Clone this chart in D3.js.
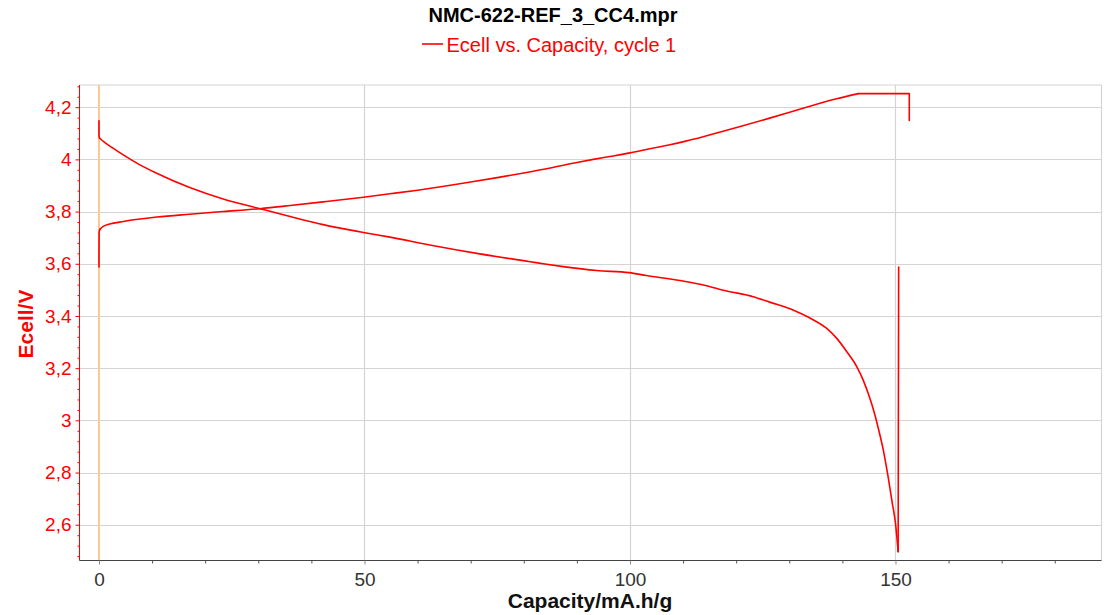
<!DOCTYPE html>
<html>
<head>
<meta charset="utf-8">
<script src="https://cdn.jsdelivr.net/npm/d3@7"></script>
<style>
  html, body { margin: 0; padding: 0; background: #fff; }
  svg { display: block; font-family: "Liberation Sans", Arial, sans-serif; }
</style>
</head>
<body>
<svg id="chart" width="1110" height="615"></svg>
<script>
// ---- data ----
const chartTitle = "NMC-622-REF_3_CC4.mpr";
const seriesName = "Ecell vs. Capacity, cycle 1";
const xLabel = "Capacity/mA.h/g";
const yLabel = "Ecell/V";

const xTicks = [0, 50, 100, 150];
const xTickLabels = ["0", "50", "100", "150"];
const yTicks = [2.6, 2.8, 3.0, 3.2, 3.4, 3.6, 3.8, 4.0, 4.2];
const yTickLabels = ["2,6", "2,8", "3", "3,2", "3,4", "3,6", "3,8", "4", "4,2"];

// charge (capacity mA.h/g, Ecell V)
const chargeCap = [0, 0, 0.02, 0.15, 0.8, 2, 4.6, 10.9, 17.1, 23.4, 30.3, 36, 42.2, 49.8, 54.8, 60, 65, 70, 75, 80, 85, 90, 93.1, 96.8, 100, 103.5, 107.5, 110.5, 113.8, 120.1, 126.3, 132.6, 138.9, 143.0, 152.6, 152.6];
const chargeE   = [3.588, 3.65, 3.72, 3.732, 3.743, 3.752, 3.762, 3.779, 3.790, 3.800, 3.811, 3.823, 3.837, 3.855, 3.868, 3.882, 3.897, 3.913, 3.930, 3.948, 3.967, 3.988, 4.0, 4.013, 4.025, 4.040, 4.056, 4.070, 4.087, 4.122, 4.158, 4.196, 4.232, 4.252, 4.252, 4.149];

// discharge
const dischargeCap = [0, 0, 0.1, 1, 2.5, 4.58, 7.7, 10.86, 17.1, 23.4, 30.3, 36, 42.2, 49.8, 54.8, 62.3, 71.7, 81.2, 84.3, 87.4, 93.7, 99.85, 103.1, 109.4, 113.8, 118.2, 123.2, 126.3, 130.7, 133.9, 137.0, 138.9, 140.8, 142.7, 143.9, 145.0, 146.0, 146.7, 147.7, 148.6, 149.4, 150.0, 150.5, 150.6];
const dischargeE   = [4.148, 4.09, 4.082, 4.066, 4.045, 4.017, 3.979, 3.947, 3.892, 3.848, 3.811, 3.781, 3.750, 3.720, 3.702, 3.672, 3.638, 3.608, 3.598, 3.589, 3.574, 3.566, 3.555, 3.536, 3.519, 3.496, 3.474, 3.453, 3.423, 3.392, 3.353, 3.315, 3.264, 3.206, 3.155, 3.095, 3.030, 2.975, 2.887, 2.785, 2.683, 2.606, 2.497, 3.587];

const xDomain = [-3.67, 188.8];
const yDomain = [2.463, 4.285];

// ---- layout ----
(function draw() {
const svg = d3.select("#chart");
const pLeft = 79.5, pRight = 1101.5, pTop = 85, pBottom = 560.5;
const red = "#ff0000";
const gridColor = "#d4d4d4";

const x = d3.scaleLinear().domain(xDomain).range([pLeft, pRight]);
const y = d3.scaleLinear().domain(yDomain).range([pBottom, pTop]);

// gridlines
const grid = svg.append("g");
grid.selectAll("line.h").data(yTicks).join("line")
  .attr("x1", pLeft).attr("x2", pRight)
  .attr("y1", d => Math.round(y(d)) + 0.5).attr("y2", d => Math.round(y(d)) + 0.5)
  .attr("stroke", gridColor).attr("stroke-width", 1.2);
grid.selectAll("line.v").data(xTicks.filter(d => d !== 0)).join("line")
  .attr("y1", pTop).attr("y2", pBottom)
  .attr("x1", d => Math.round(x(d)) + 0.5).attr("x2", d => Math.round(x(d)) + 0.5)
  .attr("stroke", gridColor).attr("stroke-width", 1.2);

// plot border (top & right)
svg.append("line").attr("x1", pLeft).attr("x2", pRight).attr("y1", pTop).attr("y2", pTop)
  .attr("stroke", gridColor).attr("stroke-width", 1.2);
svg.append("line").attr("x1", pRight).attr("x2", pRight).attr("y1", pTop).attr("y2", pBottom)
  .attr("stroke", gridColor).attr("stroke-width", 1.2);

// zero capacity marker line
svg.append("line")
  .attr("x1", x(0)).attr("x2", x(0)).attr("y1", pTop).attr("y2", pBottom)
  .attr("stroke", "#ffc890").attr("stroke-width", 2);

// curves: straight vertical / CV parts, smooth monotone parts in between
const lin = d3.line().x(d => x(d[0])).y(d => y(d[1]));
const smooth = d3.line().x(d => x(d[0])).y(d => y(d[1])).curve(d3.curveMonotoneX);
const charge = chargeCap.map((c, i) => [c, chargeE[i]]);
const discharge = dischargeCap.map((c, i) => [c, dischargeE[i]]);
const nD = discharge.length;
const pieces = [
  [lin, charge.slice(0, 4)],
  [smooth, charge.slice(3, 34)],
  [lin, charge.slice(33)],
  [lin, discharge.slice(0, 3)],
  [smooth, discharge.slice(2, nD - 1)],
  [lin, discharge.slice(nD - 2)]
];
pieces.forEach(([gen, data]) => {
  svg.append("path").datum(data)
    .attr("d", gen)
    .attr("fill", "none")
    .attr("stroke", red)
    .attr("stroke-width", 1.6)
    .attr("stroke-linejoin", "round")
    .attr("stroke-linecap", "round");
});

// y axis (red)
const yMinor = d3.range(2.48, 4.285, 0.04).filter(v => !yTicks.some(t => Math.abs(t - v) < 1e-6));
const yAxisMinor = svg.append("g").attr("transform", `translate(${pLeft},0)`)
  .call(d3.axisLeft(y).tickValues(yMinor).tickSize(2).tickFormat(""));
yAxisMinor.select(".domain").remove();
yAxisMinor.selectAll("line").attr("stroke", red);

const yAxis = svg.append("g").attr("transform", `translate(${pLeft},0)`)
  .call(d3.axisLeft(y).tickValues(yTicks).tickSize(4).tickSizeOuter(0)
    .tickFormat((d, i) => yTickLabels[i]));
yAxis.select(".domain").attr("stroke", red).attr("d", `M0,${pTop}V${pBottom}`);
yAxis.selectAll(".tick line").attr("stroke", red);
yAxis.selectAll(".tick text").attr("fill", red).attr("font-size", 19)
  .attr("font-family", "'Liberation Sans', Arial, sans-serif").attr("x", -8);

// x axis
const xMinor = d3.range(0, 189, 10).filter(v => !xTicks.includes(v));
const xAxisMinor = svg.append("g").attr("transform", `translate(0,${pBottom})`)
  .call(d3.axisBottom(x).tickValues(xMinor).tickSize(3).tickFormat(""));
xAxisMinor.select(".domain").remove();
xAxisMinor.selectAll("line").attr("stroke", "#555");

const xAxis = svg.append("g").attr("transform", `translate(0,${pBottom})`)
  .call(d3.axisBottom(x).tickValues(xTicks).tickSize(4).tickSizeOuter(0)
    .tickFormat((d, i) => xTickLabels[i]));
xAxis.select(".domain").attr("stroke", "#444").attr("stroke-width", 1.2)
  .attr("d", `M${pLeft},0H${pRight}`);
xAxis.selectAll(".tick line").attr("stroke", "#888");
xAxis.selectAll(".tick text").attr("fill", "#333").attr("font-size", 19)
  .attr("font-family", "'Liberation Sans', Arial, sans-serif").attr("y", 12);

// title
svg.append("text").attr("x", 553).attr("y", 22).attr("text-anchor", "middle")
  .attr("font-size", 20).attr("font-weight", "bold").attr("fill", "#000")
  .text(chartTitle);

// legend
svg.append("line").attr("x1", 422).attr("x2", 443).attr("y1", 44).attr("y2", 44)
  .attr("stroke", red).attr("stroke-width", 1.6);
svg.append("text").attr("x", 446.5).attr("y", 52)
  .attr("font-size", 20).attr("fill", red).text(seriesName);

// axis labels
svg.append("text").attr("x", 590).attr("y", 608).attr("text-anchor", "middle")
  .attr("font-size", 21).attr("font-weight", "bold").attr("fill", "#111")
  .text(xLabel);
svg.append("text").attr("transform", "translate(33,324) rotate(-90)")
  .attr("text-anchor", "middle")
  .attr("font-size", 21).attr("font-weight", "bold").attr("fill", red)
  .text(yLabel);
})();
</script>
</body>
</html>
